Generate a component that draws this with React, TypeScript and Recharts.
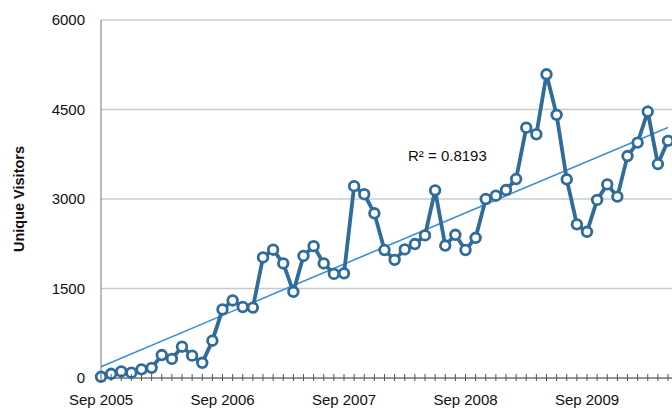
import { CartesianGrid, Line, LineChart, ReferenceLine, XAxis, YAxis } from "recharts";

const months = [
  "Sep 2005", "Oct 2005", "Nov 2005", "Dec 2005", "Jan 2006", "Feb 2006", "Mar 2006", "Apr 2006",
  "May 2006", "Jun 2006", "Jul 2006", "Aug 2006", "Sep 2006", "Oct 2006", "Nov 2006", "Dec 2006",
  "Jan 2007", "Feb 2007", "Mar 2007", "Apr 2007", "May 2007", "Jun 2007", "Jul 2007", "Aug 2007",
  "Sep 2007", "Oct 2007", "Nov 2007", "Dec 2007", "Jan 2008", "Feb 2008", "Mar 2008", "Apr 2008",
  "May 2008", "Jun 2008", "Jul 2008", "Aug 2008", "Sep 2008", "Oct 2008", "Nov 2008", "Dec 2008",
  "Jan 2009", "Feb 2009", "Mar 2009", "Apr 2009", "May 2009", "Jun 2009", "Jul 2009", "Aug 2009",
  "Sep 2009", "Oct 2009", "Nov 2009", "Dec 2009", "Jan 2010", "Feb 2010", "Mar 2010", "Apr 2010",
  "May 2010",
];

const visitors = [
  20, 70, 110, 90, 145, 170, 385, 320, 525, 375, 255, 625, 1150, 1300, 1190, 1180,
  2020, 2150, 1920, 1445, 2045, 2210, 1920, 1745, 1755, 3215, 3080, 2760, 2145, 1980,
  2155, 2245, 2390, 3145, 2220, 2400, 2145, 2350, 3000, 3055, 3150, 3335, 4195, 4085,
  5090, 4410, 3330, 2575, 2450, 2985, 3245, 3040, 3720, 3945, 4465, 3585, 3975,
];

const yTicks = [0, 1500, 3000, 4500, 6000];
const trendStart = 190;
const trendEnd = 4200;
const rSquared = "R² = 0.8193";

const data = months.map((m, i) => ({ month: m, visitors: visitors[i] }));

const font = "Helvetica, Arial, 'Liberation Sans', sans-serif";

function MonthTick(props: any) {
  const { x, y, payload } = props;
  const label: string = payload.value;
  const axisY = y - 8;
  return (
    <g>
      <line x1={x} x2={x} y1={axisY - 4} y2={axisY + 3} stroke="#555" strokeWidth={1} />
      {label.startsWith("Sep") && (
        <text x={x} y={axisY + 27} textAnchor="middle" fontSize={15} fontFamily={font} fill="#111">
          {label}
        </text>
      )}
    </g>
  );
}

export default function App() {
  return (
    <div style={{ position: "absolute", left: 0, top: 0, background: "#fff" }}>
      <LineChart width={672} height={412} data={data} margin={{ top: 20, right: 0, bottom: 4, left: 0 }}>
        <CartesianGrid vertical={false} stroke="#c8cccf" strokeWidth={1.5} />
        <XAxis
          dataKey="month"
          interval={0}
          height={30}
          tick={<MonthTick />}
          tickLine={false}
          axisLine={{ stroke: "#555" }}
          padding={{ left: 0, right: 4 }}
        />
        <YAxis
          domain={[0, 6000]}
          ticks={yTicks}
          width={101}
          tickLine={false}
          axisLine={{ stroke: "#777" }}
          tick={{ fontSize: 15, fill: "#111", fontFamily: font }}
          tickMargin={10}
          label={{
            value: "Unique Visitors",
            angle: -90,
            position: "insideLeft",
            offset: 19,
            style: { fontSize: 14.5, fontWeight: 600, fill: "#111", fontFamily: font, textAnchor: "middle" },
          }}
        />
        <ReferenceLine
          segment={[
            { x: months[0], y: trendStart },
            { x: months[months.length - 1], y: trendEnd },
          ]}
          stroke="#3d8fd6"
          strokeWidth={1.6}
          ifOverflow="visible"
        />
        <Line
          type="linear"
          dataKey="visitors"
          stroke="#2f6b9b"
          strokeWidth={3.8}
          dot={{ r: 4.8, fill: "#fff", stroke: "#2f6b9b", strokeWidth: 2.8 }}
          isAnimationActive={false}
        />
        <text x={408} y={161} fontSize={15} fontFamily={font} fill="#111">
          {rSquared}
        </text>
      </LineChart>
    </div>
  );
}
